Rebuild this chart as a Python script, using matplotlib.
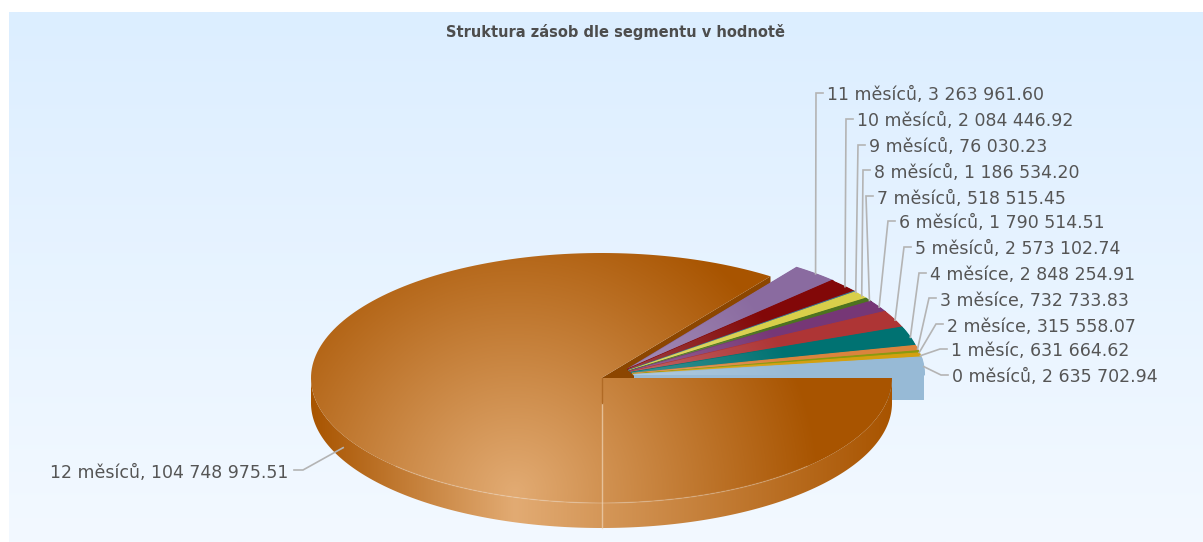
import numpy as np
import matplotlib
matplotlib.use('Agg')
import matplotlib.pyplot as plt
from matplotlib.colors import to_rgb
from matplotlib.patches import Polygon

W, H = 1203, 542

title = 'Struktura zásob dle segmentu v hodnotě'
segments = ['0 měsíců', '1 měsíc', '2 měsíce', '3 měsíce', '4 měsíce', '5 měsíců', '6 měsíců',
            '7 měsíců', '8 měsíců', '9 měsíců', '10 měsíců', '11 měsíců', '12 měsíců']
values = [2635702.94, 631664.62, 315558.07, 732733.83, 2848254.91, 2573102.74, 1790514.51,
          518515.45, 1186534.20, 76030.23, 2084446.92, 3263961.60, 104748975.51]
colors = ['#97BAD6', '#D4A010', '#8A9A10', '#DB843D', '#007272', '#AE3535', '#763776',
          '#4D7320', '#D8CF4A', '#3D6F90', '#820808', '#8A6BA0', '#A85400']

# left end of every label, the last one is placed by its right end
label_x = [952, 951, 947, 940, 930, 915, 899, 877, 874, 869, 857, 827, 288]
label_y = [376, 350, 325, 299, 274, 248, 222, 197, 171, 146, 120, 94, 471]

cx, cy = 601.5, 378
rx, ry = 290.5, 125
depth = 25
grad_x, grad_y, grad_r = 515, 492, 305


def mix(c1, c2, t):
    return np.array(c1) * (1 - t) + np.array(c2) * t


yy, xx = np.mgrid[0:H, 0:W] + 0.5
radial = np.clip(np.hypot(xx - grad_x, yy - grad_y) / grad_r, 0, 1)[..., None]


def fill(ax, verts, image, z):
    im = ax.imshow(image, extent=[0, W, H, 0], aspect='auto', zorder=z, interpolation='bilinear')
    im.set_clip_path(Polygon(verts, closed=True, transform=ax.transData))


def wedge(x0, y0, t1, t2):
    t = np.radians(np.linspace(t1, t2, 200))
    arc = np.column_stack([x0 + rx * np.cos(t), y0 - ry * np.sin(t)])
    return np.vstack([[x0, y0], arc])


fig = plt.figure(figsize=(W / 100, H / 100), dpi=100, facecolor='white')
ax = fig.add_axes([0, 0, 1, 1])
ax.axis('off')

# page background
bg = np.linspace(0, 1, 256)[:, None, None] * (np.array(to_rgb('#F3F9FF')) - to_rgb('#DCEEFF')) + to_rgb('#DCEEFF')
ax.imshow(bg, extent=[9, W, H, 12], aspect='auto', zorder=0)

angles = np.cumsum([0] + values) / sum(values) * 360
mids = (angles[:-1] + angles[1:]) / 2
anchors = []

# cut face of the big slice, behind the small ones
end = np.radians(angles[-2])
ex, ey = cx + rx * np.cos(end), cy - ry * np.sin(end)
ax.add_patch(Polygon([[cx, cy], [ex, ey], [ex, ey + depth], [cx, cy + depth]], color='#8C4600', lw=0, zorder=1))

# small slices are pulled out of the pie, back ones first
n_small = len(values) - 1
off_x = cx + 33 - mids[:n_small] * 0.14
off_y = cy - 2.5 - mids[:n_small] * 0.13
z = 2
for i in range(n_small - 1, -1, -1):
    t = np.radians(mids[i])
    anchors.insert(0, (off_x[i] + rx * np.cos(t), off_y[i] - ry * np.sin(t)))
    base = to_rgb(colors[i])
    img = mix(mix(base, (1, 1, 1), 0.5)[None, None, :], np.array(base)[None, None, :], radial)
    verts = wedge(off_x[i], off_y[i], angles[i], angles[i + 1])
    if i < n_small - 1:
        # run slightly under the next slice, which sits at a different offset, so no gap shows
        t2 = np.radians(angles[i + 1] + 0.3)
        verts = np.vstack([verts, [off_x[i + 1] + rx * np.cos(t2), off_y[i + 1] - ry * np.sin(t2)],
                           [off_x[i + 1], off_y[i + 1]]])
    # flat copy under the gradient so the clipped edges do not let the background through
    ax.add_patch(Polygon(verts, facecolor=base, edgecolor=base, lw=0.8, zorder=z))
    fill(ax, verts, img, z)
    if i == 0:
        ax.add_patch(Polygon([[off_x[0], off_y[0]], [off_x[0] + rx, off_y[0]],
                              [off_x[0] + rx, off_y[0] + depth], [off_x[0], off_y[0] + depth]],
                             color=colors[0], lw=0, zorder=z))
    z += 1

# big slice: rim, then the top face
t = np.radians(np.linspace(180, 360, 300))
rim = np.vstack([np.column_stack([cx + rx * np.cos(t), cy - ry * np.sin(t)]),
                 np.column_stack([cx + rx * np.cos(t[::-1]), cy - ry * np.sin(t[::-1]) + depth])])
dark = np.array(to_rgb(colors[-1]))
light = np.array(to_rgb('#E2AB73'))
side = np.where(xx < grad_x, (grad_x - xx) / (grad_x - (cx - rx)), (xx - grad_x) / (cx + rx - grad_x))
side = np.clip(side, 0, 1)[..., None]
fill(ax, rim, mix(light[None, None, :], dark[None, None, :], side), 20)
fill(ax, wedge(cx, cy, angles[-2], 360), mix(light[None, None, :], dark[None, None, :], radial), 21)

# front edge of the top face and the seam through the front
t = np.radians(np.linspace(225, 315, 200))
ax.plot(cx + rx * np.cos(t), cy - ry * np.sin(t), color='white', alpha=0.18, lw=1, zorder=22)
ax.plot([cx, cx], [cy + depth, cy + ry + depth], color='#F0D6B8', alpha=0.7, lw=1, zorder=22)
ax.plot([cx, cx], [cy, cy + depth], color='#B06A25', lw=1, zorder=22)

# connectors and labels
t = np.radians(mids[-1])
anchors.append((cx + rx * np.cos(t), cy - ry * np.sin(t) + depth / 2))
for i, seg in enumerate(segments):
    text = seg + ', ' + f'{values[i]:,.2f}'.replace(',', ' ')
    px, py = anchors[i]
    lx, ly = label_x[i], label_y[i]
    if i == len(segments) - 1:
        xs = [px, lx + 15, lx + 6]
        ha = 'right'
    else:
        xs = [px, lx - 11, lx - 4]
        ha = 'left'
    ax.plot(xs, [py, ly - 1, ly - 1], color='#B4B4B4', lw=1.2, zorder=25, solid_joinstyle='miter')
    ax.text(lx, ly + 6.5, text, ha=ha, va='baseline', fontsize=12.5, color='#555555', zorder=26)

ax.text(615.5, 32, title, ha='center', va='center', fontsize=10.5, fontweight='bold', color='#4D4D4D', zorder=26)

ax.set_xlim(0, W)
ax.set_ylim(H, 0)
fig.savefig('out.png', dpi=100, facecolor='white')
